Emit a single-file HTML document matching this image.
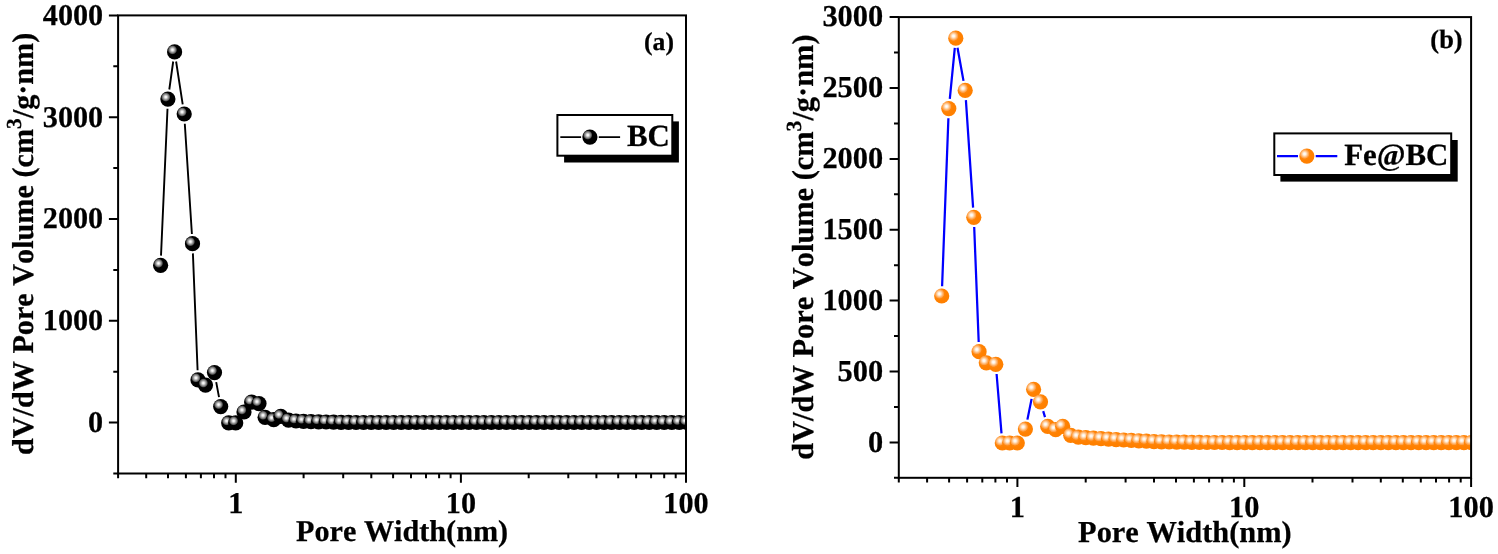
<!DOCTYPE html>
<html lang="en"><head><meta charset="utf-8"><title>Pore size distribution</title>
<style>html,body{margin:0;padding:0;background:#fff}body{width:1498px;height:554px;overflow:hidden}svg{display:block;filter:blur(0.35px)}text{font-family:"Liberation Serif","Times New Roman",serif;font-weight:bold;fill:#000;stroke:#000;stroke-width:0.25px;text-rendering:geometricPrecision;font-kerning:none}</style></head><body>
<svg width="1498" height="554" viewBox="0 0 1498 554">
<defs><radialGradient id="gk" cx="0.36" cy="0.365" r="0.31"><stop offset="0" stop-color="#fff"/><stop offset="0.2" stop-color="#eee"/><stop offset="0.5" stop-color="#a4a4a4"/><stop offset="0.78" stop-color="#606060"/><stop offset="0.92" stop-color="#202020"/><stop offset="1" stop-color="#000"/></radialGradient><radialGradient id="go" cx="0.35" cy="0.355" r="0.44"><stop offset="0" stop-color="#fff"/><stop offset="0.18" stop-color="#fff4e8"/><stop offset="0.38" stop-color="#ffcf9e"/><stop offset="0.58" stop-color="#ffa653"/><stop offset="0.66" stop-color="#ff9c3e"/><stop offset="0.74" stop-color="#ff860a"/><stop offset="1" stop-color="#ff8000"/></radialGradient><clipPath id="cl"><rect x="118.1" y="0" width="567.9" height="554"/></clipPath><clipPath id="cr"><rect x="898.8" y="0" width="572.3" height="554"/></clipPath></defs>
<rect width="1498" height="554" fill="#fff"/>
<g clip-path="url(#cl)">
<path d="M161.0 255.6L167.5 108.8M169.3 89.5L173.2 61.5M176.1 61.5L182.7 104.4M184.8 123.7L191.9 234.0M192.9 253.4L197.6 370.2M216.2 382.1L219.0 397.1" fill="none" stroke="#000" stroke-width="1.9"/>
<circle cx="160.6" cy="265.3" r="7.6" fill="url(#gk)"/>
<circle cx="167.9" cy="99.1" r="7.6" fill="url(#gk)"/>
<circle cx="174.6" cy="51.9" r="7.6" fill="url(#gk)"/>
<circle cx="184.2" cy="114.0" r="7.6" fill="url(#gk)"/>
<circle cx="192.5" cy="243.7" r="7.6" fill="url(#gk)"/>
<circle cx="198.0" cy="379.9" r="7.6" fill="url(#gk)"/>
<circle cx="205.5" cy="385.1" r="7.6" fill="url(#gk)"/>
<circle cx="214.5" cy="372.6" r="7.6" fill="url(#gk)"/>
<circle cx="220.7" cy="406.6" r="7.6" fill="url(#gk)"/>
<circle cx="228.7" cy="422.9" r="7.6" fill="url(#gk)"/>
<circle cx="235.7" cy="422.9" r="7.6" fill="url(#gk)"/>
<circle cx="244.0" cy="412.0" r="7.6" fill="url(#gk)"/>
<circle cx="251.6" cy="402.1" r="7.6" fill="url(#gk)"/>
<circle cx="259.0" cy="403.6" r="7.6" fill="url(#gk)"/>
<circle cx="265.1" cy="417.3" r="7.6" fill="url(#gk)"/>
<circle cx="273.7" cy="419.7" r="7.6" fill="url(#gk)"/>
<circle cx="280.8" cy="416.4" r="7.6" fill="url(#gk)"/>
<circle cx="288.5" cy="420.1" r="7.6" fill="url(#gk)"/>
<circle cx="296.0" cy="421.0" r="7.6" fill="url(#gk)"/>
<circle cx="303.5" cy="421.3" r="7.6" fill="url(#gk)"/>
<circle cx="311.0" cy="421.6" r="7.6" fill="url(#gk)"/>
<circle cx="318.6" cy="421.8" r="7.6" fill="url(#gk)"/>
<circle cx="326.1" cy="422.0" r="7.6" fill="url(#gk)"/>
<circle cx="333.6" cy="422.2" r="7.6" fill="url(#gk)"/>
<circle cx="341.1" cy="422.3" r="7.6" fill="url(#gk)"/>
<circle cx="348.6" cy="422.4" r="7.6" fill="url(#gk)"/>
<circle cx="356.1" cy="422.5" r="7.6" fill="url(#gk)"/>
<circle cx="363.6" cy="422.5" r="7.6" fill="url(#gk)"/>
<circle cx="371.2" cy="422.5" r="7.6" fill="url(#gk)"/>
<circle cx="378.7" cy="422.5" r="7.6" fill="url(#gk)"/>
<circle cx="386.2" cy="422.5" r="7.6" fill="url(#gk)"/>
<circle cx="393.7" cy="422.5" r="7.6" fill="url(#gk)"/>
<circle cx="401.2" cy="422.5" r="7.6" fill="url(#gk)"/>
<circle cx="408.7" cy="422.5" r="7.6" fill="url(#gk)"/>
<circle cx="416.3" cy="422.5" r="7.6" fill="url(#gk)"/>
<circle cx="423.8" cy="422.5" r="7.6" fill="url(#gk)"/>
<circle cx="431.3" cy="422.5" r="7.6" fill="url(#gk)"/>
<circle cx="438.8" cy="422.5" r="7.6" fill="url(#gk)"/>
<circle cx="446.3" cy="422.5" r="7.6" fill="url(#gk)"/>
<circle cx="453.8" cy="422.5" r="7.6" fill="url(#gk)"/>
<circle cx="461.3" cy="422.5" r="7.6" fill="url(#gk)"/>
<circle cx="468.9" cy="422.5" r="7.6" fill="url(#gk)"/>
<circle cx="476.4" cy="422.5" r="7.6" fill="url(#gk)"/>
<circle cx="483.9" cy="422.5" r="7.6" fill="url(#gk)"/>
<circle cx="491.4" cy="422.5" r="7.6" fill="url(#gk)"/>
<circle cx="498.9" cy="422.5" r="7.6" fill="url(#gk)"/>
<circle cx="506.4" cy="422.5" r="7.6" fill="url(#gk)"/>
<circle cx="513.9" cy="422.5" r="7.6" fill="url(#gk)"/>
<circle cx="521.5" cy="422.5" r="7.6" fill="url(#gk)"/>
<circle cx="529.0" cy="422.5" r="7.6" fill="url(#gk)"/>
<circle cx="536.5" cy="422.5" r="7.6" fill="url(#gk)"/>
<circle cx="544.0" cy="422.5" r="7.6" fill="url(#gk)"/>
<circle cx="551.5" cy="422.5" r="7.6" fill="url(#gk)"/>
<circle cx="559.0" cy="422.5" r="7.6" fill="url(#gk)"/>
<circle cx="566.6" cy="422.5" r="7.6" fill="url(#gk)"/>
<circle cx="574.1" cy="422.5" r="7.6" fill="url(#gk)"/>
<circle cx="581.6" cy="422.5" r="7.6" fill="url(#gk)"/>
<circle cx="589.1" cy="422.5" r="7.6" fill="url(#gk)"/>
<circle cx="596.6" cy="422.5" r="7.6" fill="url(#gk)"/>
<circle cx="604.1" cy="422.5" r="7.6" fill="url(#gk)"/>
<circle cx="611.6" cy="422.5" r="7.6" fill="url(#gk)"/>
<circle cx="619.2" cy="422.5" r="7.6" fill="url(#gk)"/>
<circle cx="626.7" cy="422.5" r="7.6" fill="url(#gk)"/>
<circle cx="634.2" cy="422.5" r="7.6" fill="url(#gk)"/>
<circle cx="641.7" cy="422.5" r="7.6" fill="url(#gk)"/>
<circle cx="649.2" cy="422.5" r="7.6" fill="url(#gk)"/>
<circle cx="656.7" cy="422.5" r="7.6" fill="url(#gk)"/>
<circle cx="664.2" cy="422.5" r="7.6" fill="url(#gk)"/>
<circle cx="671.8" cy="422.5" r="7.6" fill="url(#gk)"/>
<circle cx="679.3" cy="422.5" r="7.6" fill="url(#gk)"/>
<circle cx="686.8" cy="422.5" r="7.6" fill="url(#gk)"/>
<circle cx="694.3" cy="422.5" r="7.6" fill="url(#gk)"/>
<circle cx="701.8" cy="422.5" r="7.6" fill="url(#gk)"/>
</g>
<rect x="118.1" y="15.4" width="567.9" height="458.1" fill="none" stroke="#000" stroke-width="2"/>
<text x="103.2" y="432.0" font-size="30.2" text-anchor="end">0</text>
<text x="103.2" y="330.2" font-size="30.2" text-anchor="end">1000</text>
<text x="103.2" y="228.4" font-size="30.2" text-anchor="end">2000</text>
<text x="103.2" y="126.6" font-size="30.2" text-anchor="end">3000</text>
<text x="103.2" y="24.8" font-size="30.2" text-anchor="end">4000</text>
<path d="M108.9 422.6H118.1M108.9 320.8H118.1M108.9 219.0H118.1M108.9 117.2H118.1M108.9 15.4H118.1M113.3 473.5H118.1M113.3 371.7H118.1M113.3 269.9H118.1M113.3 168.1H118.1M113.3 66.3H118.1M118.1 473.5V478.3M146.2 473.5V478.3M168.0 473.5V478.3M185.9 473.5V478.3M200.9 473.5V478.3M214.0 473.5V478.3M225.5 473.5V478.3M235.8 473.5V482.7M303.6 473.5V478.3M343.2 473.5V478.3M371.3 473.5V478.3M393.1 473.5V478.3M411.0 473.5V478.3M426.0 473.5V478.3M439.1 473.5V478.3M450.6 473.5V478.3M460.9 473.5V482.7M528.7 473.5V478.3M568.3 473.5V478.3M596.4 473.5V478.3M618.2 473.5V478.3M636.1 473.5V478.3M651.1 473.5V478.3M664.2 473.5V478.3M675.7 473.5V478.3M686.0 473.5V482.7" fill="none" stroke="#000" stroke-width="2"/>
<text x="235.8" y="512.5" font-size="30.2" text-anchor="middle">1</text>
<text x="460.9" y="512.5" font-size="30.2" text-anchor="middle">10</text>
<text x="686.0" y="512.5" font-size="30.2" text-anchor="middle">100</text>
<text x="402.1" y="540.5" font-size="30.2" text-anchor="middle">Pore Width(nm)</text>
<text transform="translate(32.8 243.9) rotate(-90)" font-size="30.2" text-anchor="middle">dV/dW Pore Volume (cm<tspan font-size="21.4" dy="-11.5">3</tspan><tspan dy="11.5">/g·nm)</tspan></text>
<text x="659" y="49.6" font-size="25.6" text-anchor="middle">(a)</text>
<rect x="564.1" y="121.4" width="114.8" height="41.1" fill="#000"/>
<rect x="557.4" y="115" width="114.9" height="40.7" fill="#fff" stroke="#000" stroke-width="2"/>
<path d="M560.3 137.1H581.1M598.8 137.1H620.1" stroke="#000" stroke-width="1.9" fill="none"/>
<circle cx="589.9" cy="137.1" r="7.6" fill="url(#gk)"/>
<text x="626.9" y="146.4" font-size="30.9">BC</text>
<g clip-path="url(#cr)">
<path d="M942.1 286.3L948.4 118.3M949.8 98.9L954.8 47.9M957.5 47.7L963.5 80.9M965.9 100.1L973.1 207.6M974.2 227.0L978.7 342.0M996.6 374.0L1001.5 433.3M1027.4 419.6L1031.6 398.9M1043.2 411.1L1045.0 417.1" fill="none" stroke="#0000ff" stroke-width="2.25"/>
<circle cx="941.7" cy="296.0" r="7.6" fill="url(#go)"/>
<circle cx="948.8" cy="108.6" r="7.6" fill="url(#go)"/>
<circle cx="955.8" cy="38.2" r="7.6" fill="url(#go)"/>
<circle cx="965.2" cy="90.4" r="7.6" fill="url(#go)"/>
<circle cx="973.8" cy="217.3" r="7.6" fill="url(#go)"/>
<circle cx="979.1" cy="351.7" r="7.6" fill="url(#go)"/>
<circle cx="986.3" cy="362.8" r="7.6" fill="url(#go)"/>
<circle cx="995.8" cy="364.3" r="7.6" fill="url(#go)"/>
<circle cx="1002.3" cy="443.0" r="7.6" fill="url(#go)"/>
<circle cx="1009.7" cy="443.0" r="7.6" fill="url(#go)"/>
<circle cx="1017.3" cy="443.0" r="7.6" fill="url(#go)"/>
<circle cx="1025.4" cy="429.1" r="7.6" fill="url(#go)"/>
<circle cx="1033.6" cy="389.4" r="7.6" fill="url(#go)"/>
<circle cx="1040.5" cy="401.8" r="7.6" fill="url(#go)"/>
<circle cx="1047.7" cy="426.4" r="7.6" fill="url(#go)"/>
<circle cx="1055.7" cy="429.7" r="7.6" fill="url(#go)"/>
<circle cx="1062.7" cy="426.4" r="7.6" fill="url(#go)"/>
<circle cx="1070.7" cy="435.3" r="7.6" fill="url(#go)"/>
<circle cx="1078.3" cy="437.2" r="7.6" fill="url(#go)"/>
<circle cx="1085.8" cy="437.7" r="7.6" fill="url(#go)"/>
<circle cx="1093.4" cy="438.2" r="7.6" fill="url(#go)"/>
<circle cx="1101.0" cy="438.7" r="7.6" fill="url(#go)"/>
<circle cx="1108.5" cy="439.1" r="7.6" fill="url(#go)"/>
<circle cx="1116.1" cy="439.6" r="7.6" fill="url(#go)"/>
<circle cx="1123.7" cy="440.0" r="7.6" fill="url(#go)"/>
<circle cx="1131.3" cy="440.4" r="7.6" fill="url(#go)"/>
<circle cx="1138.8" cy="440.8" r="7.6" fill="url(#go)"/>
<circle cx="1146.4" cy="441.2" r="7.6" fill="url(#go)"/>
<circle cx="1154.0" cy="441.6" r="7.6" fill="url(#go)"/>
<circle cx="1161.5" cy="441.8" r="7.6" fill="url(#go)"/>
<circle cx="1169.1" cy="442.0" r="7.6" fill="url(#go)"/>
<circle cx="1176.7" cy="442.1" r="7.6" fill="url(#go)"/>
<circle cx="1184.2" cy="442.2" r="7.6" fill="url(#go)"/>
<circle cx="1191.8" cy="442.3" r="7.6" fill="url(#go)"/>
<circle cx="1199.4" cy="442.4" r="7.6" fill="url(#go)"/>
<circle cx="1207.0" cy="442.5" r="7.6" fill="url(#go)"/>
<circle cx="1214.5" cy="442.5" r="7.6" fill="url(#go)"/>
<circle cx="1222.1" cy="442.5" r="7.6" fill="url(#go)"/>
<circle cx="1229.7" cy="442.6" r="7.6" fill="url(#go)"/>
<circle cx="1237.2" cy="442.6" r="7.6" fill="url(#go)"/>
<circle cx="1244.8" cy="442.6" r="7.6" fill="url(#go)"/>
<circle cx="1252.3" cy="442.6" r="7.6" fill="url(#go)"/>
<circle cx="1259.9" cy="442.6" r="7.6" fill="url(#go)"/>
<circle cx="1267.4" cy="442.6" r="7.6" fill="url(#go)"/>
<circle cx="1275.0" cy="442.6" r="7.6" fill="url(#go)"/>
<circle cx="1282.5" cy="442.6" r="7.6" fill="url(#go)"/>
<circle cx="1290.1" cy="442.6" r="7.6" fill="url(#go)"/>
<circle cx="1297.7" cy="442.6" r="7.6" fill="url(#go)"/>
<circle cx="1305.2" cy="442.6" r="7.6" fill="url(#go)"/>
<circle cx="1312.8" cy="442.6" r="7.6" fill="url(#go)"/>
<circle cx="1320.3" cy="442.6" r="7.6" fill="url(#go)"/>
<circle cx="1327.9" cy="442.6" r="7.6" fill="url(#go)"/>
<circle cx="1335.4" cy="442.6" r="7.6" fill="url(#go)"/>
<circle cx="1343.0" cy="442.6" r="7.6" fill="url(#go)"/>
<circle cx="1350.6" cy="442.6" r="7.6" fill="url(#go)"/>
<circle cx="1358.1" cy="442.6" r="7.6" fill="url(#go)"/>
<circle cx="1365.7" cy="442.6" r="7.6" fill="url(#go)"/>
<circle cx="1373.2" cy="442.6" r="7.6" fill="url(#go)"/>
<circle cx="1380.8" cy="442.6" r="7.6" fill="url(#go)"/>
<circle cx="1388.3" cy="442.6" r="7.6" fill="url(#go)"/>
<circle cx="1395.9" cy="442.6" r="7.6" fill="url(#go)"/>
<circle cx="1403.4" cy="442.6" r="7.6" fill="url(#go)"/>
<circle cx="1411.0" cy="442.6" r="7.6" fill="url(#go)"/>
<circle cx="1418.6" cy="442.6" r="7.6" fill="url(#go)"/>
<circle cx="1426.1" cy="442.6" r="7.6" fill="url(#go)"/>
<circle cx="1433.7" cy="442.6" r="7.6" fill="url(#go)"/>
<circle cx="1441.2" cy="442.6" r="7.6" fill="url(#go)"/>
<circle cx="1448.8" cy="442.6" r="7.6" fill="url(#go)"/>
<circle cx="1456.3" cy="442.6" r="7.6" fill="url(#go)"/>
<circle cx="1463.9" cy="442.6" r="7.6" fill="url(#go)"/>
<circle cx="1471.4" cy="442.6" r="7.6" fill="url(#go)"/>
<circle cx="1479.0" cy="442.6" r="7.6" fill="url(#go)"/>
</g>
<rect x="898.8" y="17.1" width="572.3" height="460.7" fill="none" stroke="#000" stroke-width="2"/>
<text x="883.2" y="451.7" font-size="30.4" text-anchor="end">0</text>
<text x="883.2" y="380.8" font-size="30.4" text-anchor="end">500</text>
<text x="883.2" y="309.9" font-size="30.4" text-anchor="end">1000</text>
<text x="883.2" y="239.0" font-size="30.4" text-anchor="end">1500</text>
<text x="883.2" y="168.2" font-size="30.4" text-anchor="end">2000</text>
<text x="883.2" y="97.3" font-size="30.4" text-anchor="end">2500</text>
<text x="883.2" y="26.4" font-size="30.4" text-anchor="end">3000</text>
<path d="M889.6 442.4H898.8M889.6 371.5H898.8M889.6 300.6H898.8M889.6 229.7H898.8M889.6 158.9H898.8M889.6 88.0H898.8M889.6 17.1H898.8M894.0 477.8H898.8M894.0 406.9H898.8M894.0 336.0H898.8M894.0 265.2H898.8M894.0 194.3H898.8M894.0 123.4H898.8M894.0 52.5H898.8M898.8 477.8V482.6M927.1 477.8V482.6M949.1 477.8V482.6M967.1 477.8V482.6M982.3 477.8V482.6M995.4 477.8V482.6M1007.0 477.8V482.6M1017.4 477.8V487.0M1085.7 477.8V482.6M1125.6 477.8V482.6M1154.0 477.8V482.6M1176.0 477.8V482.6M1193.9 477.8V482.6M1209.1 477.8V482.6M1222.3 477.8V482.6M1233.9 477.8V482.6M1244.3 477.8V487.0M1312.5 477.8V482.6M1352.5 477.8V482.6M1380.8 477.8V482.6M1402.8 477.8V482.6M1420.8 477.8V482.6M1436.0 477.8V482.6M1449.1 477.8V482.6M1460.7 477.8V482.6M1471.1 477.8V487.0" fill="none" stroke="#000" stroke-width="2"/>
<text x="1017.4" y="516.6" font-size="30.4" text-anchor="middle">1</text>
<text x="1244.3" y="516.6" font-size="30.4" text-anchor="middle">10</text>
<text x="1471.1" y="516.6" font-size="30.4" text-anchor="middle">100</text>
<text x="1184.9" y="541.7" font-size="30.4" text-anchor="middle">Pore Width(nm)</text>
<text transform="translate(812.9 247.1) rotate(-90)" font-size="30.4" text-anchor="middle">dV/dW Pore Volume (cm<tspan font-size="21.6" dy="-11.5">3</tspan><tspan dy="11.5">/g·nm)</tspan></text>
<text x="1446.5" y="48.1" font-size="26.4" text-anchor="middle">(b)</text>
<rect x="1280.4" y="140" width="177.3" height="41.6" fill="#000"/>
<rect x="1274.3" y="133.4" width="176.9" height="41.6" fill="#fff" stroke="#000" stroke-width="2"/>
<path d="M1277.0 156.1H1298.0M1315.7 156.1H1337.3" stroke="#0000ff" stroke-width="2.25" fill="none"/>
<circle cx="1306.85" cy="156.1" r="7.6" fill="url(#go)"/>
<text x="1344.2" y="164.5" font-size="30.9">Fe@BC</text>
</svg></body></html>
